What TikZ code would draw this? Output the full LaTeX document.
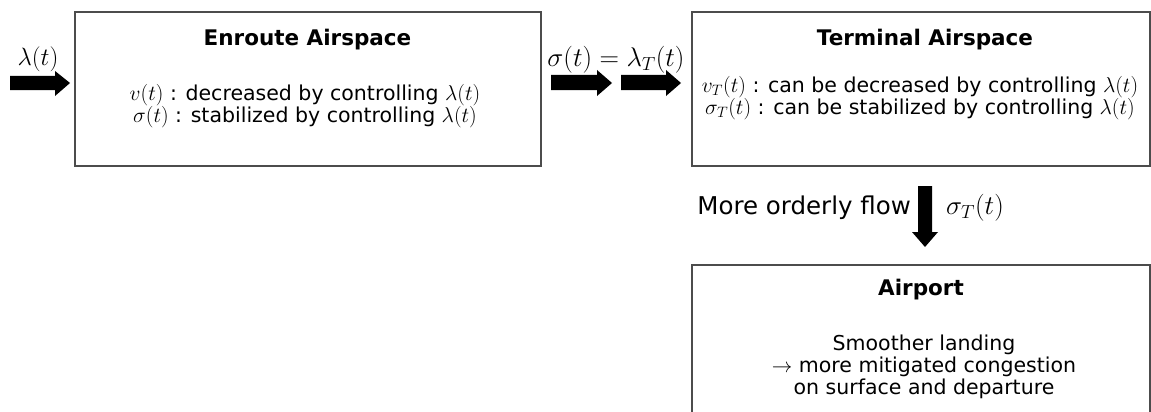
\RequirePackage{fix-cm}
\documentclass[tikz,border=0pt]{standalone}
\usepackage{fontspec}
\setmainfont{DejaVu Sans}
\newcommand{\mth}[1]{{\fontsize{21.5}{22}\selectfont$#1$}}
\begin{document}
\begin{tikzpicture}[x=1pt,y=-1pt,
  box/.style={draw=black!70, line width=1.3pt},
  ttl/.style={font=\fontsize{21.5}{24}\selectfont\bfseries, inner sep=0pt, anchor=base},
  body/.style={font=\fontsize{20.5}{22}\selectfont, inner sep=0pt, anchor=base},
  lbl/.style={font=\fontsize{25}{30}\selectfont, inner sep=0pt},
  lblw/.style={font=\fontsize{27}{30}\selectfont, inner sep=0pt},
  flow/.style={font=\fontsize{24.5}{28}\selectfont, inner sep=0pt},
  blk/.style={fill=black}]
\useasboundingbox (0,0) rectangle (1151,412);
% boxes
\draw[box] (75,12) rectangle (541,166);
\draw[box] (692,12) rectangle (1150,166);
\draw[box] (692,265) rectangle (1150,440);
% titles
\node[ttl] (t1) at (307.5,46) {Enroute Airspace};
\node[ttl] (t2) at (925,46) {Terminal Airspace};
\node[ttl] (t3) at (921,295) {Airport};
% bodies
\node[body] (b1a) at (305,100.5) {\mth{v(t)} : decreased by controlling \mth{\lambda(t)}};
\node[body] (b1b) at (305,122.5) {\mth{\sigma(t)} : stabilized by controlling \mth{\lambda(t)}};
\node[body] (b2a) at (920,92.5) {\mth{v_T(t)} : can be decreased by controlling \mth{\lambda(t)}};
\node[body] (b2b) at (920,114.5) {\mth{\sigma_T(t)} : can be stabilized by controlling \mth{\lambda(t)}};
\node[body] (b3a) at (924,350) {Smoother landing};
\node[body] (b3b) at (924,372) {$\rightarrow$ more mitigated congestion};
\node[body] (b3c) at (924,394) {on surface and departure};
% labels
\node[lbl] (l1) at (38,59) {$\lambda(t)$};
\node[lblw] (l2) at (616,60) {$\sigma(t)=\lambda_T(t)$};
\node[flow, anchor=base east] (l3) at (911,214) {More orderly flow};
\node[lblw, anchor=base west] (l4) at (946,214) {$\sigma_T(t)$};
% block arrows
\fill[blk] (10,76) -- (55,76) -- (55,71) -- (70,83) -- (55,96) -- (55,90) -- (10,90) -- cycle;
\fill[blk] (551,75) -- (597,75) -- (597,70) -- (612,83) -- (597,96) -- (597,90) -- (551,90) -- cycle;
\fill[blk] (621,75) -- (666,75) -- (666,70) -- (681,83) -- (666,96) -- (666,90) -- (621,90) -- cycle;
\fill[blk] (918,186) -- (932,186) -- (932,232) -- (938,232) -- (925,247) -- (912,232) -- (918,232) -- cycle;
\end{tikzpicture}
\end{document}
